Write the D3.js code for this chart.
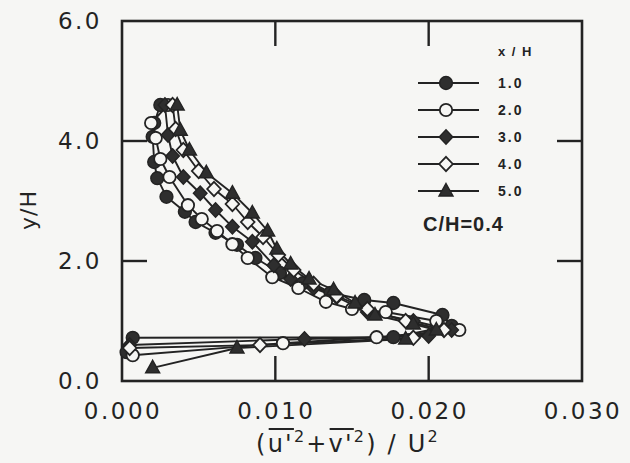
<!DOCTYPE html>
<html>
<head>
<meta charset="utf-8">
<script src="https://cdn.jsdelivr.net/npm/d3@7"></script>
<style>
  html, body { margin: 0; padding: 0; background: #f6f6f4; }
  svg { display: block; }
</style>
</head>
<body>
<svg id="chart" width="630" height="463"></svg>
<script>
// Normal Reynolds stress profiles (u'^2 + v'^2)/U^2 vs y/H at five stations x/H
const stations = ["1.0", "2.0", "3.0", "4.0", "5.0"];
const markerKinds = ["circleFilled", "circleOpen", "diamondFilled", "diamondOpen", "triangleFilled"];

// each profile: [stress, y/H] in measurement order (top of domain down to the wall)
const profileX1 = [[0.0025,4.60],[0.0021,4.30],[0.0020,4.07],[0.0021,3.65],[0.0023,3.38],[0.0029,3.07],[0.0041,2.82],[0.0048,2.65],[0.0061,2.47],[0.0075,2.27],[0.0087,2.05],[0.0103,1.80],[0.0118,1.63],[0.0136,1.47],[0.0158,1.35],[0.0177,1.30],[0.0209,1.10],[0.0215,0.92],[0.0177,0.73],[0.0007,0.72],[0.0003,0.48]];
const profileX2 = [[0.0030,4.60],[0.0019,4.30],[0.0022,4.05],[0.0025,3.70],[0.0031,3.40],[0.0043,2.93],[0.0052,2.70],[0.0062,2.50],[0.0072,2.28],[0.0082,2.05],[0.0098,1.73],[0.0115,1.55],[0.0133,1.32],[0.0150,1.20],[0.0172,1.15],[0.0205,1.00],[0.0220,0.85],[0.0166,0.73],[0.0105,0.63],[0.0007,0.43]];
const profileX3 = [[0.0028,4.60],[0.0030,4.10],[0.0033,3.75],[0.0040,3.40],[0.0051,3.13],[0.0061,2.85],[0.0072,2.57],[0.0085,2.32],[0.0099,1.93],[0.0110,1.70],[0.0125,1.55],[0.0140,1.40],[0.0160,1.15],[0.0190,1.00],[0.0215,0.85],[0.0200,0.75],[0.0119,0.70],[0.0005,0.60]];
const profileX4 = [[0.0033,4.60],[0.0035,4.20],[0.0040,3.85],[0.0050,3.50],[0.0060,3.20],[0.0072,2.95],[0.0082,2.65],[0.0092,2.40],[0.0102,2.10],[0.0112,1.85],[0.0125,1.62],[0.0140,1.42],[0.0160,1.20],[0.0185,1.00],[0.0210,0.85],[0.0190,0.72],[0.0090,0.60],[0.0005,0.55]];
const profileX5 = [[0.0036,4.60],[0.0038,4.18],[0.0044,3.85],[0.0055,3.47],[0.0072,3.13],[0.0085,2.80],[0.0095,2.50],[0.0101,2.20],[0.0110,1.95],[0.0122,1.70],[0.0138,1.52],[0.0152,1.30],[0.0165,1.10],[0.0190,0.95],[0.0205,0.85],[0.0185,0.70],[0.0075,0.55],[0.0020,0.22]];
const profiles = [profileX1, profileX2, profileX3, profileX4, profileX5];

const xTicks = [0.000, 0.010, 0.020, 0.030];
const yTicks = [0.0, 2.0, 4.0, 6.0];
const xTickLabels = ["0.000", "0.010", "0.020", "0.030"];
const yTickLabels = ["0.0", "2.0", "4.0", "6.0"];
const caseLabel = "C/H=0.4";
const legendTitle = "x / H";

const ink = "#232323";
const paper = "#f6f6f4";
const svg = d3.select("#chart");
const x = d3.scaleLinear().domain([0, 0.03]).range([122, 582]);
const y = d3.scaleLinear().domain([0, 6]).range([381, 21]);

// frame
svg.append("rect")
  .attr("x", x(0)).attr("y", y(6))
  .attr("width", x(0.03) - x(0)).attr("height", y(0) - y(6))
  .attr("fill", "none").attr("stroke", ink).attr("stroke-width", 2.6);

// inward ticks on all four sides
const tickLen = 25;
const innerX = xTicks.slice(1, -1), innerY = yTicks.slice(1, -1);
const tickG = svg.append("g").attr("stroke", ink).attr("stroke-width", 2.4);
innerX.forEach(v => {
  tickG.append("line").attr("x1", x(v)).attr("x2", x(v)).attr("y1", y(0)).attr("y2", y(0) - tickLen);
  tickG.append("line").attr("x1", x(v)).attr("x2", x(v)).attr("y1", y(6)).attr("y2", y(6) + tickLen);
});
innerY.forEach(v => {
  tickG.append("line").attr("y1", y(v)).attr("y2", y(v)).attr("x1", x(0)).attr("x2", x(0) + tickLen);
  tickG.append("line").attr("y1", y(v)).attr("y2", y(v)).attr("x1", x(0.03)).attr("x2", x(0.03) - tickLen);
});

// tick labels
const labelFont = "'DejaVu Sans', sans-serif";
svg.append("g").selectAll("text").data(xTicks).join("text")
  .attr("x", d => x(d) + 1).attr("y", 419)
  .attr("text-anchor", "middle")
  .attr("font-family", labelFont).attr("font-size", 23)
  .attr("letter-spacing", 2.5)
  .attr("fill", ink)
  .text((d, i) => xTickLabels[i]);
svg.append("g").selectAll("text").data(yTicks).join("text")
  .attr("x", 102).attr("y", d => y(d) + 8)
  .attr("text-anchor", "end")
  .attr("font-family", labelFont).attr("font-size", 23)
  .attr("letter-spacing", 2.5)
  .attr("fill", ink)
  .text((d, i) => yTickLabels[i]);

// y-axis title
svg.append("text")
  .attr("transform", "translate(36,210) rotate(-90)")
  .attr("text-anchor", "middle")
  .attr("font-family", labelFont).attr("font-size", 22)
  .attr("letter-spacing", 1)
  .attr("fill", ink)
  .text("y/H");

// x-axis title: (u'² + v'²) / U² with overbars on the fluctuations
const xt = svg.append("text")
  .attr("y", 452)
  .attr("font-family", labelFont).attr("font-size", 24)
  .attr("letter-spacing", 2.2)
  .attr("fill", ink);
const pieces = [
  { t: "(", sup: false },
  { t: "u'", sup: false, bar: true },
  { t: "2", sup: true },
  { t: "+", sup: false },
  { t: "v'", sup: false, bar: true },
  { t: "2", sup: true },
  { t: ") / U", sup: false },
  { t: "2", sup: true }
];
let raised = false;
pieces.forEach(p => {
  const ts = xt.append("tspan").attr("font-size", p.sup ? 16 : 24).text(p.t);
  if (p.sup && !raised) { ts.attr("dy", -10); raised = true; }
  else if (!p.sup && raised) { ts.attr("dy", 10); raised = false; }
});
const full = xt.node();
const totalW = full.getComputedTextLength();
xt.attr("x", 348 - totalW / 2);
let idx = 0;
pieces.forEach(p => {
  const start = idx;
  idx += p.t.length;
  if (p.bar) {
    const x0 = full.getStartPositionOfChar(start).x;
    const x1 = full.getEndPositionOfChar(start + p.t.length - 1).x;
    svg.append("line")
      .attr("x1", x0 + 1).attr("x2", x1)
      .attr("y1", 429).attr("y2", 429)
      .attr("stroke", ink).attr("stroke-width", 2);
  }
});

// marker drawing
function drawMarker(g, kind, cx, cy) {
  const s = g.append("g").attr("transform", `translate(${cx},${cy})`);
  if (kind === "circleFilled") {
    s.append("circle").attr("r", 6.4).attr("fill", "#2e2e2e").attr("stroke", ink).attr("stroke-width", 1.5);
  } else if (kind === "circleOpen") {
    s.append("circle").attr("r", 6.2).attr("fill", paper).attr("stroke", ink).attr("stroke-width", 1.8);
  } else if (kind === "diamondFilled") {
    s.append("path").attr("d", "M0,-7.2L6.8,0L0,7.2L-6.8,0Z").attr("fill", "#2e2e2e").attr("stroke", ink).attr("stroke-width", 1.4);
  } else if (kind === "diamondOpen") {
    s.append("path").attr("d", "M0,-7.2L6.8,0L0,7.2L-6.8,0Z").attr("fill", paper).attr("stroke", ink).attr("stroke-width", 1.8);
  } else {
    s.append("path").attr("d", "M0,-7.5L7,5L-7,5Z").attr("fill", "#2e2e2e").attr("stroke", ink).attr("stroke-width", 1.4);
  }
}

const line = d3.line().x(d => x(d[0])).y(d => y(d[1]));
const plot = svg.append("g");
profiles.forEach(pts => {
  plot.append("path")
    .attr("d", line(pts))
    .attr("fill", "none").attr("stroke", ink).attr("stroke-width", 1.9)
    .attr("stroke-linejoin", "round");
});
profiles.forEach((pts, i) => {
  const g = plot.append("g");
  pts.forEach(p => drawMarker(g, markerKinds[i], x(p[0]), y(p[1])));
});

// legend
const legendFont = "'Liberation Sans', Arial, sans-serif";
const lg = svg.append("g");
lg.append("text")
  .attr("x", 498).attr("y", 56)
  .attr("font-family", legendFont).attr("font-weight", "bold")
  .attr("font-size", 13).attr("letter-spacing", 1.5).attr("fill", ink)
  .text(legendTitle);
const legendY = d3.scalePoint().domain(stations).range([83, 191]);
stations.forEach((st, i) => {
  const ly = legendY(st);
  lg.append("line").attr("x1", 418).attr("x2", 479).attr("y1", ly).attr("y2", ly)
    .attr("stroke", ink).attr("stroke-width", 1.8);
  drawMarker(lg, markerKinds[i], 446, ly);
  lg.append("text")
    .attr("x", 498).attr("y", ly + 5)
    .attr("font-family", legendFont).attr("font-weight", "bold")
    .attr("font-size", 14).attr("letter-spacing", 2).attr("fill", ink)
    .text(st);
});
lg.append("text")
  .attr("x", 423).attr("y", 231)
  .attr("font-family", legendFont).attr("font-weight", "bold")
  .attr("font-size", 20).attr("letter-spacing", 1).attr("fill", ink)
  .text(caseLabel);
</script>
</body>
</html>
